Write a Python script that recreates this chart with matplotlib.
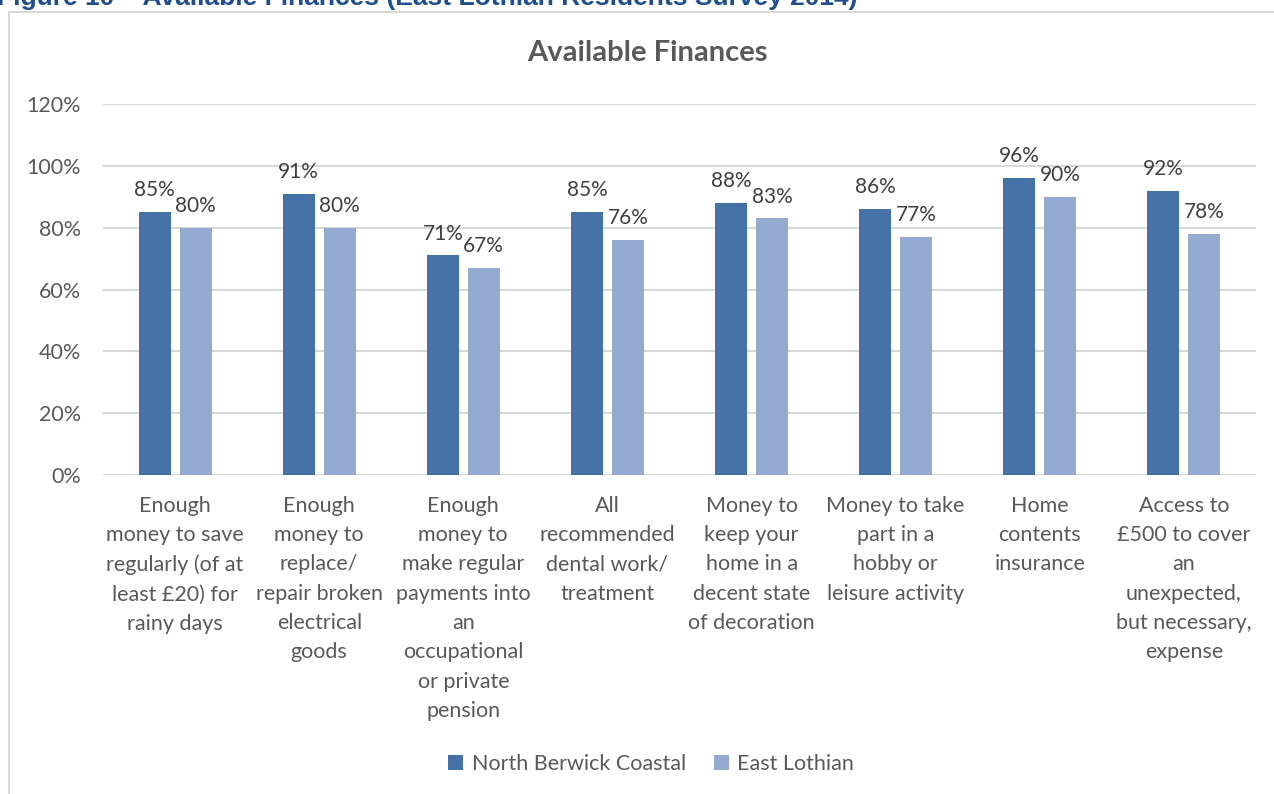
import numpy as np
import matplotlib.pyplot as plt
from matplotlib.patches import Rectangle

# Data
categories = [
    "Enough\nmoney to save\nregularly (of at\nleast £20) for\nrainy days",
    "Enough\nmoney to\nreplace/\nrepair broken\nelectrical\ngoods",
    "Enough\nmoney to\nmake regular\npayments into\nan\noccupational\nor private\npension",
    "All\nrecommended\ndental work/\ntreatment",
    "Money to\nkeep your\nhome in a\ndecent state\nof decoration",
    "Money to take\npart in a\nhobby or\nleisure activity",
    "Home\ncontents\ninsurance",
    "Access to\n£500 to cover\nan\nunexpected,\nbut necessary,\nexpense",
]
north_berwick = [85, 91, 71, 85, 88, 86, 96, 92]
east_lothian = [80, 80, 67, 76, 83, 77, 90, 78]
series_names = ["North Berwick Coastal", "East Lothian"]
y_ticks = [0, 20, 40, 60, 80, 100, 120]

DARK = "#4572A7"
LIGHT = "#95AAD0"
TEXT = "#595959"
GRID = "#D9D9D9"

plt.rcParams['font.family'] = ['Lato', 'DejaVu Sans']

fig = plt.figure(figsize=(12.74, 7.94), dpi=100)

# chart frame (partly outside the crop)
fig.patches.append(Rectangle((9 / 1274, -0.05), 1.0, 1 - 12 / 794 + 0.05,
                             transform=fig.transFigure, fill=False,
                             edgecolor="#D9D9D9", linewidth=1.5))

# cropped document heading above the chart
fig.text(-0.002, 1 - 5 / 794, "Figure 10 – Available Finances (East Lothian Residents Survey 2014)",
         family=['Liberation Sans'], fontsize=19, fontweight='bold', color="#1F4E8C",
         ha='left', va='baseline')

ax = fig.add_axes([103 / 1274, 1 - 475 / 794, (1256 - 103) / 1274, (475 - 104) / 794])

x = np.arange(len(categories))
w = 0.222
off = 0.142
b1 = ax.bar(x - off, north_berwick, w, color=DARK, zorder=3)
b2 = ax.bar(x + off, east_lothian, w, color=LIGHT, zorder=3)

for bars, vals in ((b1, north_berwick), (b2, east_lothian)):
    for bar, v in zip(bars, vals):
        ax.annotate(f"{v}%", (bar.get_x() + bar.get_width() / 2, v),
                    xytext=(0, 8.5), textcoords='offset points',
                    ha='center', va='bottom', fontsize=15, color="#404040")

ax.set_xlim(-0.5, len(categories) - 0.5)
ax.set_ylim(0, 120)
ax.set_yticks(y_ticks)
ax.set_yticklabels([f"{t}%" for t in y_ticks], fontsize=15.5, color=TEXT)
ax.set_xticks(x)
ax.set_xticklabels(categories, fontsize=15.5, color=TEXT, linespacing=1.58, va='top')
ax.tick_params(axis='both', length=0)
ax.tick_params(axis='x', pad=15)
ax.tick_params(axis='y', pad=16)
ax.grid(axis='y', color=GRID, linewidth=1.5, zorder=0)
for s in ax.spines.values():
    s.set_visible(False)

fig.text(647 / 1274, 1 - 53 / 794, "Available Finances", fontsize=21, fontweight='bold',
         color=TEXT, ha='center', va='center')

leg = fig.legend([b1, b2], series_names, loc='center', bbox_to_anchor=(651 / 1274, 1 - 764 / 794),
                 ncol=2, frameon=False, fontsize=15.5, handlelength=0.7, handleheight=0.7,
                 handletextpad=0.4, columnspacing=1.3)
for t in leg.get_texts():
    t.set_color(TEXT)

fig.savefig("out.png", dpi=100)
